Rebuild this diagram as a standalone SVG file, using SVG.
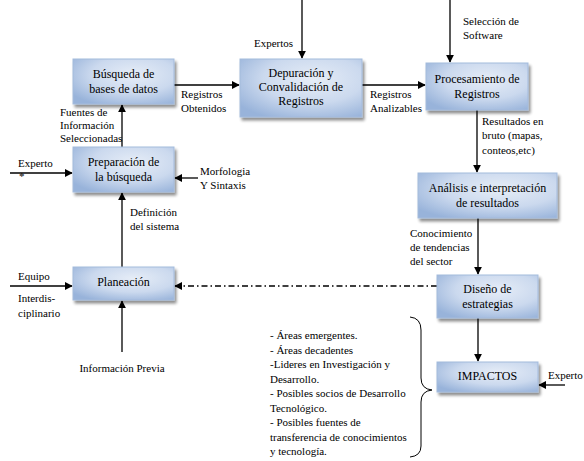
<svg xmlns="http://www.w3.org/2000/svg" width="584" height="461" viewBox="0 0 584 461" font-family="Liberation Serif, Times New Roman, serif">
<defs>
<radialGradient id="g" cx="0.6" cy="0.35" r="0.75">
<stop offset="0" stop-color="#e6edf7"/>
<stop offset="0.55" stop-color="#cbd9ee"/>
<stop offset="1" stop-color="#98b3da"/>
</radialGradient>
<marker id="a" viewBox="0 0 10 10" refX="9" refY="5" markerWidth="8" markerHeight="8" markerUnits="userSpaceOnUse" orient="auto">
<path d="M0,0 L10,5 L0,10 z" fill="#000"/>
</marker>
<filter id="sh" x="-10%" y="-10%" width="130%" height="140%">
<feGaussianBlur in="SourceAlpha" stdDeviation="1.5"/>
<feOffset dx="2" dy="2.5" result="o"/>
<feComponentTransfer><feFuncA type="linear" slope="0.45"/></feComponentTransfer>
<feMerge><feMergeNode/><feMergeNode in="SourceGraphic"/></feMerge>
</filter>
</defs>
<style>
.box{fill:url(#g);stroke:#a4bbdc;stroke-width:1;filter:url(#sh)}
.bt{font-size:12px;fill:#000;text-anchor:middle}
.lt{font-size:11px;fill:#000}
.ln{stroke:#000;stroke-width:1.3;fill:none;marker-end:url(#a)}
.pl{stroke:#000;stroke-width:1;fill:none}
</style>
<rect width="584" height="461" fill="#fff"/>
<g id="connectors">
<line class="ln" x1="174" y1="85" x2="239" y2="85"/>
<line class="ln" x1="362" y1="85" x2="425" y2="85"/>
<line class="ln" x1="302" y1="0" x2="302" y2="58"/>
<line class="ln" x1="450" y1="0" x2="450" y2="62"/>
<line class="ln" x1="477" y1="110" x2="477" y2="172"/>
<line class="ln" x1="478" y1="218" x2="478" y2="274"/>
<line class="ln" x1="478" y1="318" x2="478" y2="361"/>
<line class="ln" x1="565" y1="385" x2="539" y2="385"/>
<line class="ln" x1="122" y1="147" x2="122" y2="105"/>
<line class="ln" x1="122" y1="267" x2="122" y2="193"/>
<line class="ln" x1="122" y1="352" x2="122" y2="301"/>
<line class="ln" x1="10" y1="173" x2="72" y2="173"/>
<line class="ln" x1="198" y1="178" x2="175" y2="178"/>
<line class="ln" x1="10" y1="286" x2="72" y2="286"/>
<line class="ln" x1="437" y1="286" x2="175" y2="286" stroke-dasharray="6,3,1.5,3"/>
<path class="pl" d="M410,317 Q421,318 421,330 L421,378 Q421,389 432,390 Q421,391 421,402 L421,446 Q421,456 410,457"/>
</g>
<g id="n-busqueda">
<rect class="box" x="73" y="59" width="101" height="45"/>
<text class="bt" x="123.5" y="78">Búsqueda de</text>
<text class="bt" x="123.5" y="93">bases de datos</text>
</g>
<g id="n-depuracion">
<rect class="box" x="240" y="59" width="122" height="58"/>
<text class="bt" x="301" y="77">Depuración y</text>
<text class="bt" x="301" y="91">Convalidación de</text>
<text class="bt" x="301" y="105">Registros</text>
</g>
<g id="n-procesamiento">
<rect class="box" x="426" y="63" width="102" height="47"/>
<text class="bt" x="477" y="83">Procesamiento de</text>
<text class="bt" x="477" y="98">Registros</text>
</g>
<g id="n-preparacion">
<rect class="box" x="73" y="147" width="101" height="45"/>
<text class="bt" x="123.5" y="166">Preparación de</text>
<text class="bt" x="123.5" y="181">la búsqueda</text>
</g>
<g id="n-planeacion">
<rect class="box" x="73" y="267" width="101" height="33"/>
<text class="bt" x="123.5" y="286">Planeación</text>
</g>
<g id="n-analisis">
<rect class="box" x="418" y="173" width="139" height="45"/>
<text class="bt" x="487.5" y="192">Análisis e interpretación</text>
<text class="bt" x="487.5" y="207">de resultados</text>
</g>
<g id="n-diseno">
<rect class="box" x="437" y="275" width="101" height="43"/>
<text class="bt" x="487.5" y="293">Diseño de</text>
<text class="bt" x="487.5" y="308">estrategias</text>
</g>
<g id="n-impactos">
<rect class="box" x="437" y="362" width="101" height="30"/>
<text class="bt" x="487.5" y="380">IMPACTOS</text>
</g>
<g id="labels">
<text class="lt" x="254" y="47">Expertos</text>
<text class="lt" x="463" y="25">Selección de</text>
<text class="lt" x="463" y="39">Software</text>
<text class="lt" x="181" y="98">Registros</text>
<text class="lt" x="181" y="112">Obtenidos</text>
<text class="lt" x="370" y="98">Registros</text>
<text class="lt" x="370" y="112">Analizables</text>
<text class="lt" x="482" y="125">Resultados en</text>
<text class="lt" x="482" y="139">bruto (mapas,</text>
<text class="lt" x="482" y="154">conteos,etc)</text>
<text class="lt" x="60" y="116" font-size="9.5">Fuentes de</text>
<text class="lt" x="60" y="129" font-size="9.5">Información</text>
<text class="lt" x="60" y="142" font-size="9.5">Seleccionadas</text>
<text class="lt" x="18" y="167">Experto</text>
<text class="lt" x="19" y="180" font-size="9">*</text>
<text class="lt" x="200" y="175">Morfologia</text>
<text class="lt" x="200" y="189">Y Sintaxis</text>
<text class="lt" x="130" y="216">Definición</text>
<text class="lt" x="130" y="230">del sistema</text>
<text class="lt" x="18" y="280">Equipo</text>
<text class="lt" x="18" y="302">Interdis-</text>
<text class="lt" x="18" y="317">ciplinario</text>
<text class="lt" x="122" y="372" text-anchor="middle">Información Previa</text>
<text class="lt" x="410" y="237">Conocimiento</text>
<text class="lt" x="410" y="251">de tendencias</text>
<text class="lt" x="410" y="265">del sector</text>
<text class="lt" x="548" y="379">Experto</text>
<text class="lt" x="270" y="339">- Áreas emergentes.</text>
<text class="lt" x="270" y="354">- Áreas decadentes</text>
<text class="lt" x="270" y="368">-Lideres en Investigación y</text>
<text class="lt" x="270" y="383">Desarrollo.</text>
<text class="lt" x="270" y="397">- Posibles socios de Desarrollo</text>
<text class="lt" x="270" y="412">Tecnológico.</text>
<text class="lt" x="270" y="426">- Posibles fuentes de</text>
<text class="lt" x="270" y="441">transferencia de conocimientos</text>
<text class="lt" x="270" y="455">y tecnología.</text>
</g>
</svg>
